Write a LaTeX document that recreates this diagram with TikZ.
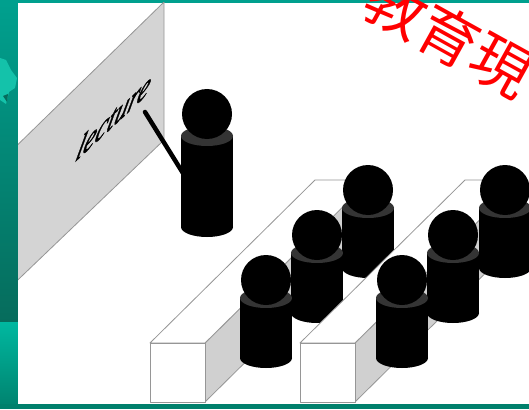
\documentclass[tikz,border=0pt]{standalone}
\usepackage{fontspec}
\newfontfamily\cjkfont{Noto Sans CJK JP}
\newfontfamily\lecfont{Liberation Serif}[ItalicFeatures={FakeBold=1.6}]
\definecolor{tealA}{RGB}{0,160,142}
\definecolor{tealB}{RGB}{6,108,92}
\definecolor{tealC}{RGB}{0,184,160}
\definecolor{tealD}{RGB}{0,132,112}
\definecolor{tealE}{RGB}{0,128,108}
\definecolor{tealLight}{RGB}{20,194,170}
\definecolor{screengray}{RGB}{212,212,212}
\definecolor{sidegray}{RGB}{208,208,208}
\definecolor{edgegray}{RGB}{150,150,150}
\definecolor{band}{RGB}{52,52,52}
% one person: #1 = x, #2 = head centre y, #3 = shoulder drop, #4 = body length
\newcommand\drawperson[4]{%
  \fill[black] (#1-26,#2+#3) rectangle (#1+26,#2+#3+#4);
  \fill[black] (#1,#2+#3+#4) ellipse (26 and 10);
  \fill[band] (#1,#2+#3) ellipse (26 and 10);
  \fill[black] (#1,#2) circle (25);
}
% one bench: #1 = x of the front-left corner
\newcommand\drawbench[1]{%
  \filldraw[benchside] (#1+55,343) -- (#1+220,180) -- (#1+220,239) -- (#1+55,402) -- cycle;
  \filldraw[benchface] (#1,343) -- (#1+55,343) -- (#1+220,180) -- (#1+165,180) -- cycle;
  \filldraw[benchface] (#1,343) rectangle (#1+55,402);
}
\begin{document}
\begin{tikzpicture}[x=1pt,y=-1pt,
  benchface/.style={fill=white,draw=edgegray,line width=0.8pt,line join=round},
  benchside/.style={fill=sidegray,draw=edgegray,line width=0.8pt,line join=round},
  watermark/.style={text=red,font=\cjkfont\fontsize{60}{66}\selectfont,rotate=-29,inner sep=0pt}]
\useasboundingbox (0,0) rectangle (529,409);
% frame
\fill[tealA] (0,0) rectangle (529,409);
\shade[top color=tealA,bottom color=tealB] (0,3) rectangle (18,322);
\shade[top color=tealC,bottom color=tealD] (0,322) rectangle (18,404);
\fill[tealLight] (0,58) -- (6,60) -- (11,70) -- (17,78) -- (15,88) -- (9,92) -- (6,104) -- (0,100) -- cycle;
\fill[tealB] (3,96) -- (8,94) -- (7,102) -- cycle;
\fill[tealE] (0,404) rectangle (529,409);
\fill[white] (18,3) rectangle (529,404);
% projection screen
\begin{scope}
  \clip (18,3) rectangle (529,404);
  \filldraw[fill=screengray,draw=edgegray,line width=0.8pt]
    (0,162) -- (164,2) -- (164,140) -- (0,297) -- cycle;
\end{scope}
\node[anchor=base west,inner sep=0pt,cm={0.74,0.69,0.3,1.05,(0,0)},
  font=\lecfont\itshape\fontsize{36}{40}\selectfont] (lecture) at (74,163) {lecture};
% lecturer with pointer
\draw[line width=4.5pt,line cap=round] (145,112) -- (186,178);
\drawperson{207}{114}{22}{91}
% first bench and its row
\drawbench{150}
\drawperson{368}{190}{18}{60}
\drawperson{317}{235}{18}{60}
\drawperson{266}{280}{18}{60}
% second bench and its row
\drawbench{300}
\drawperson{505}{190}{18}{60}
\drawperson{453}{235}{18}{60}
\drawperson{402}{280}{18}{60}
% watermark
\node[watermark] (wm) at (449,36) {教育現};
\end{tikzpicture}
\end{document}
